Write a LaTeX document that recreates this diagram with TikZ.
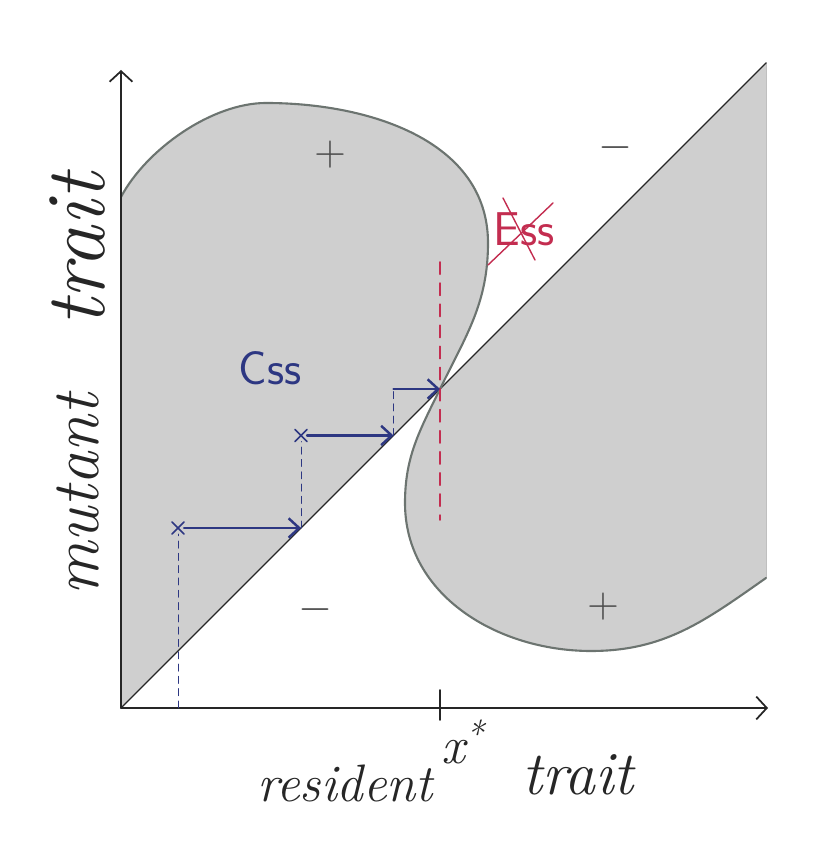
\documentclass[tikz,border=0pt]{standalone}
\usepackage{xcolor}
\usepackage{tikz}
\usetikzlibrary{arrows.meta, shapes.misc}

\definecolor{inkblue}{RGB}{45,55,130}
\definecolor{inkred}{RGB}{195,45,80}
\definecolor{rimgray}{RGB}{108,116,112}

\begin{document}
\begin{tikzpicture}[
  >={Straight Barb[length=6pt, width=13pt]}, line cap=round,
  zone/.style={fill=black!19},
  rim/.style={draw=rimgray, line width=1.2pt},
  axis/.style={->, line width=1pt, black!85},
  jump/.style={-{Straight Barb[length=6pt, width=11pt]}, draw=inkblue, line width=1.4pt},
  guide/.style={draw=inkblue, line width=0.5pt, dash pattern=on 4pt off 3pt},
  xmark/.style={cross out, draw=inkblue, line width=0.9pt, minimum size=6pt, inner sep=0pt},
  hand/.style={inner sep=0pt, text=black!85},
  sign/.style={font=\fontsize{24}{28}\selectfont, text=black!70},
  tag/.style={font=\sffamily\fontsize{27}{31}\selectfont, inner sep=0pt}]
  \useasboundingbox (-2.42,-2.88) rectangle (14.02,14.16);
  % key points
  \coordinate (O) at (0,0);
  \coordinate (xs) at (6.38,6.38);
  \coordinate (ytop) at (0,12.76);
  \coordinate (xend) at (12.94,0);
  \coordinate (dtop) at (12.9,12.9);
  % points of the S-shaped boundary
  \coordinate (ys) at (0,10.22);
  \coordinate (top) at (2.9,12.1);
  \coordinate (bulge) at (7.34,9.3);
  \coordinate (dent) at (5.68,4.1);
  \coordinate (low) at (9.4,1.14);
  \coordinate (rbot) at (12.9,2.6);
  % shaded regions (both lobes in one path)
  \fill[zone] (O) -- (ys) to[out=62, in=180, looseness=0.8] (top) to[out=0, in=90] (bulge)
    to[out=-90, in=64] (xs) to[out=-116, in=90] (dent) to[out=-90, in=180] (low)
    to[out=0, in=215] (rbot) -- (dtop) -- cycle;
  \draw[black!25, thin] (rbot) -- (dtop);
  \draw[black!85, line width=0.8pt] (O) -- (dtop);
  % S-shaped boundary
  \draw[rim] (ys) to[out=62, in=180, looseness=0.8] (top) to[out=0, in=90] (bulge)
    to[out=-90, in=64] (xs) to[out=-116, in=90] (dent) to[out=-90, in=180] (low)
    to[out=0, in=215] (rbot);
  % axes
  \draw[axis] (O) -- (ytop);
  \draw[axis] (O) -- (xend);
  \coordinate (t1) at (6.38,0.36);
  \coordinate (t2) at (6.38,-0.24);
  \draw[line width=1pt, black!85] (t1) -- (t2);
  % singular strategy
  \coordinate (r1) at (6.38,8.92);
  \coordinate (r2) at (6.38,3.76);
  \draw[inkred, line width=0.9pt, dash pattern=on 7pt off 5pt] (r1) -- (r2);
  % successive invasions
  \coordinate (a0) at (1.14,0);
  \node[xmark] (p0) at (1.14,3.6) {};
  \coordinate (d1) at (3.6,3.6);
  \node[xmark] (p1) at (3.6,5.45) {};
  \coordinate (d2) at (5.45,5.45);
  \coordinate (p2) at (5.45,6.38);
  \draw[guide] (a0) -- (p0);
  \draw[guide] (d1) -- (p1);
  \draw[guide] (d2) -- (p2);
  \draw[jump] (p0) -- (d1);
  \draw[jump] (p1) -- (d2);
  \draw[jump] (p2) -- (xs);
  % signs
  \node[sign] (s1) at (4.18,11.06) {$+$};
  \node[sign] (s2) at (9.88,11.2) {$-$};
  \node[sign] (s3) at (3.88,1.96) {$-$};
  \node[sign] (s4) at (9.64,2.02) {$+$};
  % labels
  \node[tag, text=inkblue] (css) at (2.98,6.8) {Css};
  \node[tag, text=inkred] (ess) at (8.06,9.58) {Ess};
  \draw[inkred, line width=0.8pt] (7.34,8.86) -- (8.64,10.1);
  \draw[inkred, line width=0.8pt] (7.64,10.2) -- (8.28,8.96);
  \node[hand, font=\fontsize{30}{34}\selectfont\itshape] (xlab) at (6.84,-0.68) {x\textsuperscript{*}};
  \node[hand, font=\fontsize{30}{36}\selectfont\itshape] (res) at (4.48,-1.5) {resident};
  \node[hand, font=\fontsize{35}{40}\selectfont\itshape] (trx) at (9.14,-1.34) {trait};
  \node[hand, font=\fontsize{38}{44}\selectfont\itshape, rotate=90] (mut) at (-0.86,4.26) {mutant};
  \node[hand, font=\fontsize{48}{54}\selectfont\itshape, rotate=90] (try) at (-0.86,9.16) {trait};
\end{tikzpicture}
\end{document}
